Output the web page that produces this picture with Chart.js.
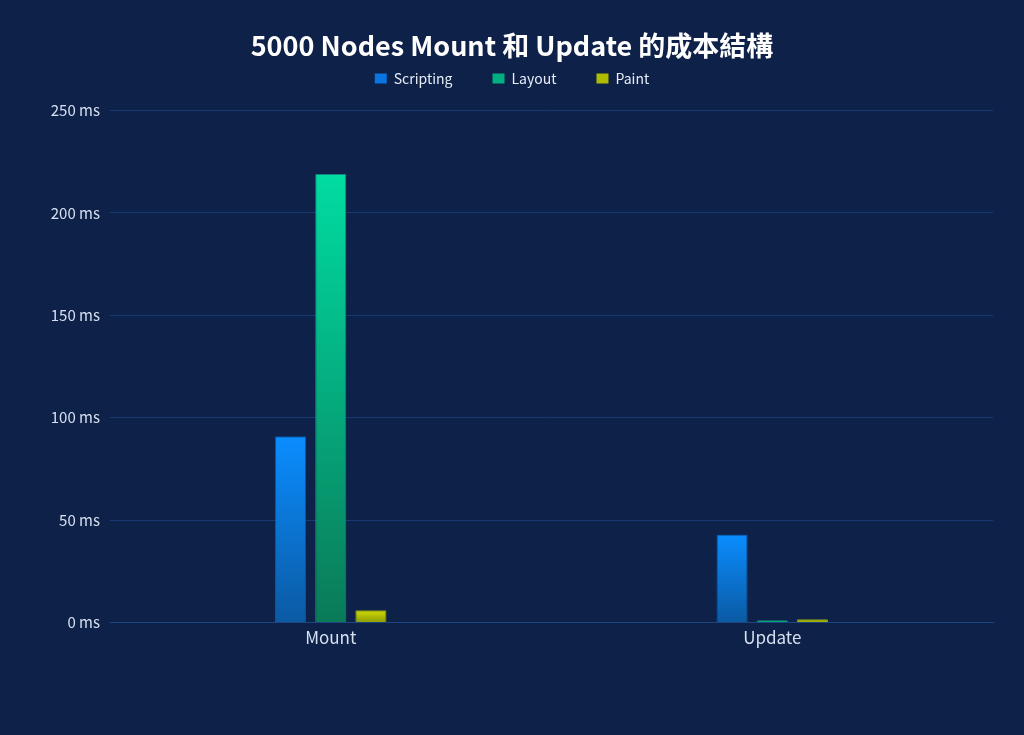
<!DOCTYPE html>
<html>
<head>
<meta charset="utf-8">
<script src="https://cdn.jsdelivr.net/npm/chart.js@4.4.1/dist/chart.umd.min.js"></script>
<style>
  html, body { margin: 0; padding: 0; background: #0e2149; }
  #wrap { width: 1024px; height: 735px; }
</style>
</head>
<body>
<div id="wrap"><canvas id="myChart"></canvas></div>
<script>
const categories = ['Mount', 'Update'];
const scripting = [91, 43];
const layout = [219, 1.2];
const paint = [6, 1.6];
const yTicks = [0, 50, 100, 150, 200, 250];

const FONT = '"Noto Sans CJK SC", "Noto Sans", sans-serif';

// gradient per bar, from the top of the bar down to the zero line
function barGradient(top, bottom) {
    return (context) => {
        const chart = context.chart;
        const y = chart.scales.y;
        if (!y || context.raw === undefined) return top;
        const y0 = y.getPixelForValue(context.raw);
        const y1 = y.getPixelForValue(0);
        const g = chart.ctx.createLinearGradient(0, y0, 0, y1 === y0 ? y0 + 1 : y1);
        g.addColorStop(0, top);
        g.addColorStop(1, bottom);
        return g;
    };
}

const seriesDefs = [
    { label: 'Scripting', data: scripting, top: '#0a8dff', bottom: '#0b5aa3', edge: 'rgba(10, 110, 200, 0.7)', legend: '#0a74e0' },
    { label: 'Layout', data: layout, top: '#00dca2', bottom: '#0a7a58', edge: 'rgba(20, 160, 140, 0.8)', legend: '#00b080' },
    { label: 'Paint', data: paint, top: '#d0dc00', bottom: '#8c9a08', edge: 'rgba(170, 190, 20, 0.8)', legend: '#b0bc00' }
];

const data = {
    labels: categories,
    datasets: seriesDefs.map(s => ({
        label: s.label,
        data: s.data,
        backgroundColor: barGradient(s.top, s.bottom),
        borderColor: s.edge,
        borderWidth: 1,
        borderRadius: { topLeft: 1, topRight: 1 },
        borderSkipped: 'bottom',
        categoryPercentage: 0.273,
        barPercentage: 0.775,
        legendColor: s.legend
    }))
};

// legend keeps wide gaps between items but needs a little room below it
const legendGap = {
    id: 'legendGap',
    beforeInit(chart) {
        const legend = chart.legend;
        if (!legend) return;
        const fit = legend.fit.bind(legend);
        legend.fit = function () {
            fit();
            this.height += 15;
        };
    }
};

const ctx = document.getElementById('myChart');

new Chart(ctx, {
    type: 'bar',
    data: data,
    plugins: [legendGap],
    options: {
        responsive: true,
        maintainAspectRatio: false,
        animation: false,
        layout: { padding: { left: 31, right: 31, top: 0, bottom: 82 } },
        plugins: {
            title: {
                display: true,
                text: '5000 Nodes Mount 和 Update 的成本結構',
                color: '#ffffff',
                font: { family: FONT, size: 27, weight: 'bold' },
                padding: { top: 30, bottom: -31 }
            },
            legend: {
                labels: {
                    color: '#e6edf7',
                    font: { family: FONT, size: 14 },
                    boxWidth: 12,
                    boxHeight: 10,
                    padding: 40,
                    generateLabels: (chart) => chart.data.datasets.map((d, i) => ({
                        text: d.label,
                        fillStyle: d.legendColor,
                        strokeStyle: d.legendColor,
                        lineWidth: 0,
                        fontColor: '#e6edf7',
                        datasetIndex: i,
                        hidden: !chart.isDatasetVisible(i)
                    }))
                }
            },
            tooltip: { enabled: false }
        },
        scales: {
            x: {
                grid: { display: false, drawTicks: false },
                border: { color: '#1d4580', width: 1 },
                ticks: {
                    color: '#d6e0f0',
                    font: { family: FONT, size: 17 },
                    padding: 5
                }
            },
            y: {
                min: 0,
                max: 250,
                afterBuildTicks: (scale) => { scale.ticks = yTicks.map(v => ({ value: v })); },
                afterFit: (scale) => { scale.width = 79; },
                grid: { color: '#183a72', lineWidth: 1, drawTicks: false },
                border: { display: false },
                ticks: {
                    color: '#d6e0f0',
                    font: { family: FONT, size: 15 },
                    padding: 10,
                    callback: v => v + ' ms'
                }
            }
        }
    }
});
</script>
</body>
</html>
